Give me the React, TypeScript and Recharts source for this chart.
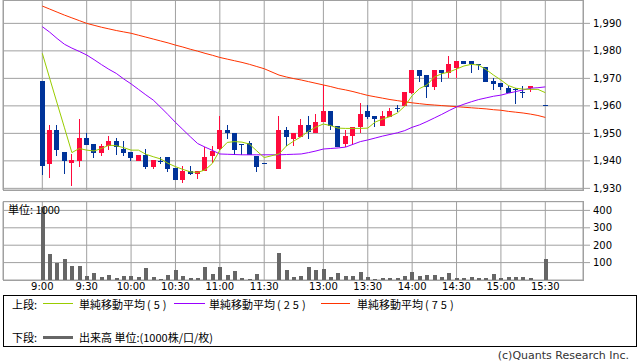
import { ComposedChart, Bar, Line, XAxis, YAxis, CartesianGrid } from 'recharts';

// 5-minute slots; '' is the lunch gap between 11:30 and 12:30
const times = [
  '9:00', '9:05', '9:10', '9:15', '9:20', '9:25', '9:30', '9:35', '9:40', '9:45', '9:50', '9:55',
  '10:00', '10:05', '10:10', '10:15', '10:20', '10:25', '10:30', '10:35', '10:40', '10:45', '10:50', '10:55',
  '11:00', '11:05', '11:10', '11:15', '11:20', '11:25', '11:30', '',
  '12:30', '12:35', '12:40', '12:45', '12:50', '12:55',
  '13:00', '13:05', '13:10', '13:15', '13:20', '13:25', '13:30', '13:35', '13:40', '13:45', '13:50', '13:55',
  '14:00', '14:05', '14:10', '14:15', '14:20', '14:25', '14:30', '14:35', '14:40', '14:45', '14:50', '14:55',
  '15:00', '15:05', '15:10', '15:15', '15:20', '15:25', '15:30',
];

const timeTicks = ['9:00', '9:30', '10:00', '10:30', '11:00', '11:30', '13:00', '13:30', '14:00', '14:30', '15:00', '15:30'];
const priceTicks = [1930, 1940, 1950, 1960, 1970, 1980, 1990];
const volumeTicks = [100, 200, 300, 400];

const opens = [
  1969, 1938.8, 1951.2, 1943.1, 1939.1, 1940, 1948.4, 1946.1, 1942.9, 1945.4, 1947.2, 1944.3,
  1943.1, 1940, 1942.1, 1937.9, 1940, 1941.5, 1937.5, 1933, 1936.3, 1935.1, 1936.3, 1941.9,
  1944.2, 1951.2, 1950, 1946, 1946.4, 1941.9, 1939.1, null,
  1937, 1951.2, 1947.9, 1948.8, 1953, 1950,
  1954, 1958.1, 1952.8, 1946, 1949, 1952.4, 1958.1, 1956.3, 1952.7, 1956, 1959.1, 1959.9,
  1964.8, 1973, 1971.2, 1967, 1973, 1972, 1973.6, 1976.3, 1976.3, 1975.1, 1974.2, 1969,
  1968.2, 1966.4, 1966.3, 1965.1, 1966.4, null, 1960.3,
];
const highs = [
  1969, 1953, 1953, 1943.1, 1942.4, 1955.2, 1950, 1946.1, 1946.1, 1949, 1948.4, 1947.2,
  1943.1, 1942.1, 1944.3, 1940.3, 1941.5, 1941.5, 1937.5, 1938.2, 1938.2, 1936.3, 1945.1, 1945.4,
  1956.4, 1953, 1950, 1946, 1947.3, 1941.9, 1939.1, null,
  1956.4, 1952.4, 1950, 1955.2, 1956.3, 1957,
  1967.6, 1958.1, 1952.8, 1951.2, 1952.4, 1961.1, 1960.3, 1956.3, 1958.1, 1959.3, 1960.3, 1964.9,
  1973, 1973, 1971.2, 1973, 1973, 1978.1, 1976.3, 1976.3, 1976.3, 1975.1, 1974.2, 1970,
  1968.2, 1967.3, 1966.4, 1967.2, 1967.2, null, 1960.3,
];
const lows = [
  1934.8, 1933.9, 1941.9, 1935.1, 1930.9, 1937.9, 1945.7, 1941.1, 1941.9, 1943.9, 1942.1, 1941.9,
  1940, 1940, 1937, 1937, 1939.1, 1936, 1933, 1932, 1935.1, 1933.3, 1936.3, 1939.1,
  1944.2, 1947.9, 1942.1, 1942.1, 1942.1, 1936, 1939.1, null,
  1937, 1945.5, 1945.1, 1948.8, 1947.9, 1950,
  1954, 1951.2, 1945.1, 1945.1, 1945.7, 1950.2, 1955.1, 1952.2, 1952.7, 1956, 1957.9, 1959.9,
  1964.2, 1968.8, 1962.9, 1965.7, 1968.8, 1970, 1970, 1975.1, 1972, 1972.8, 1968.8, 1965.7,
  1965.7, 1964.8, 1960.6, 1962.9, 1964.9, null, 1960.3,
];
const closes = [
  1938, 1951.2, 1943.9, 1940, 1940.3, 1948.4, 1945.7, 1942.9, 1945.4, 1947.2, 1945.1, 1942.9,
  1941.1, 1942.1, 1937.9, 1940.3, 1940, 1937, 1933, 1936.3, 1935.1, 1936.3, 1941.3, 1943.7,
  1951.2, 1950, 1943.9, 1946, 1942.1, 1937.9, 1939.1, null,
  1951.2, 1948.8, 1950, 1953, 1950.6, 1954,
  1958.1, 1952.8, 1945.1, 1949, 1952.4, 1957, 1956, 1955.1, 1956.3, 1958.1, 1959.1, 1964.9,
  1973, 1970.9, 1966.7, 1973, 1972, 1975.1, 1976.3, 1975.1, 1975.1, 1975.1, 1968.8, 1967.9,
  1967, 1964.8, 1966.3, 1965.1, 1967.2, null, 1960.3,
];

const ma5 = [
  1979.1, 1970, 1961, 1952, 1943, 1944.5, 1943.9, 1943.6, 1944.5, 1945.7, 1945.5, 1944.8,
  1943.9, 1943.9, 1942.4, 1941.5, 1940.7, 1939.1, 1937.9, 1936.9, 1936, 1935.8, 1936.7, 1939.1,
  1943.9, 1946.7, 1947, 1946.8, 1946.1, 1943.6, 1941.2, null,
  1942.5, 1945.4, 1947.2, 1948.8, 1950.8, 1952.3,
  1953.4, 1952.8, 1951.9, 1951.8, 1951.8, 1951.8, 1951.9, 1954.1, 1955.2, 1956.1, 1957.4, 1959.9,
  1963.7, 1966.3, 1967.6, 1970.5, 1971.7, 1972.3, 1973.4, 1974.5, 1975.1, 1974.8, 1973.2, 1971.2,
  1969.4, 1967.4, 1966.4, 1966.1, 1966, 1966, 1964.8,
];
const ma25 = [
  1988.8, 1986.8, 1984.5, 1982.4, 1981, 1979.8, 1978.5, 1976.8, 1975, 1973.3, 1971.8, 1969.8,
  1968, 1966, 1964, 1962.1, 1959.5, 1956.8, 1954, 1951.4, 1948.8, 1946.3, 1945, 1943.8,
  1942.5, 1942.4, 1942.3, 1942.2, 1942.2, 1942.2, 1942.2, null,
  1942.2, 1942.3, 1942.4, 1942.5, 1943, 1943.6,
  1944.3, 1944.5, 1944.7, 1945, 1946, 1947, 1947.6, 1948.3, 1949, 1949.6, 1950.2, 1951,
  1952.2, 1953.1, 1954.3, 1955.6, 1956.9, 1958.3, 1959.6, 1960.6, 1961.5, 1962.3, 1962.9, 1963.5,
  1963.9, 1964.6, 1965.2, 1965.8, 1966.4, 1966.6, 1966.9,
];
const ma75 = [
  1996.3, 1995.2, 1994.1, 1993, 1992, 1991, 1990, 1989.3, 1988.6, 1988, 1987.4, 1986.9,
  1986.4, 1985.7, 1985, 1984.3, 1983.6, 1982.9, 1982.1, 1981.4, 1980.6, 1979.9, 1979.1, 1978.4,
  1977.6, 1977, 1976.4, 1975.8, 1975.1, 1974.3, 1973.5, null,
  1971.2, 1970.5, 1969.9, 1969.4, 1968.8, 1968.2,
  1967.6, 1967, 1966.3, 1965.8, 1965.2, 1964.5, 1963.8, 1963.3, 1962.8, 1962.3, 1961.9, 1961.5,
  1961.1, 1960.8, 1960.5, 1960.3, 1960.1, 1959.9, 1959.7, 1959.5, 1959.3, 1959.1, 1958.9, 1958.6,
  1958.4, 1958, 1957.7, 1957.4, 1957, 1956.5, 1955.8,
];

// 単位: 1000
const volumes = [
  420, 150, 95, 120, 82, 82, 25, 40, 17, 29, 13, 25,
  25, 19, 70, 17, 8, 29, 57, 25, 13, 13, 74, 34,
  76, 29, 51, 11, 8, 34, 2, null,
  154, 57, 19, 25, 74, 57,
  63, 17, 40, 25, 25, 46, 17, 6, 11, 11, 11, 23,
  46, 23, 29, 29, 17, 40, 11, 11, 17, 11, 11, 34,
  11, 17, 17, 17, 11, null, 120,
];

const data = times.map((t, i) => ({
  t,
  o: opens[i],
  h: highs[i],
  l: lows[i],
  c: closes[i],
  range: opens[i] == null ? null : [lows[i], highs[i]],
  ma5: ma5[i],
  ma25: ma25[i],
  ma75: ma75[i],
  vol: volumes[i],
}));

const UP = '#ff0a3c';
const DOWN = '#003399';
const GRID = '#a0a0a0';
const NUM_FONT = '"DejaVu Sans", sans-serif';
const JP_FONT = '"Noto Sans CJK JP", sans-serif';

const Candle = (props: any) => {
  const { x, y, width, height, payload } = props;
  if (!payload || payload.o == null) return null;
  const { o, h, l, c } = payload;
  const k = h > l ? height / (h - l) : 0;
  const py = (v: number) => y + (h - v) * k;
  const color = c > o ? UP : DOWN;
  const cx = Math.floor(x + width / 2);
  const top = Math.round(py(Math.max(o, c)));
  const bot = Math.round(py(Math.min(o, c)));
  return (
    <g shapeRendering="crispEdges">
      <rect x={cx} y={Math.round(y)} width={1} height={Math.max(1, Math.round(height))} fill={color} />
      <rect x={cx - 2} y={top} width={5} height={Math.max(1, bot - top)} fill={color} />
    </g>
  );
};

const VolBar = (props: any) => {
  const { x, y, width, height } = props;
  if (!height) return null;
  return <rect x={Math.round(x)} y={Math.round(y)} width={width} height={Math.round(y + height) - Math.round(y)} fill="#666" shapeRendering="crispEdges" />;
};

const xPadding = { left: 35.6, right: 34 };

const legendText = { position: 'absolute' as const, lineHeight: '14px', whiteSpace: 'nowrap' as const };

export default function App() {
  return (
    <div style={{ position: 'absolute', left: 0, top: 0, width: 638, height: 362, background: '#fff', fontFamily: JP_FONT }}>
      {/* volume panel */}
      <div style={{ position: 'absolute', left: 0, top: 190 }}>
        <ComposedChart width={638} height={110} data={data} margin={{ top: 11.7, right: 5, bottom: 0, left: 3 }}>
          <CartesianGrid stroke={GRID} />
          <XAxis
            dataKey="t"
            type="category"
            ticks={timeTicks}
            interval={0}
            padding={xPadding}
            height={20}
            axisLine={false}
            tickLine={false}
            tickSize={0}
            tickMargin={3}
            tick={{ fill: '#000', fontSize: 10, fontFamily: NUM_FONT }}
          />
          <YAxis
            orientation="right"
            width={50}
            domain={[0, 450]}
            ticks={volumeTicks}
            interval={0}
            allowDataOverflow
            axisLine={false}
            tickSize={7}
            tickMargin={3}
            tickLine={{ stroke: GRID }}
            tick={{ fill: '#000', fontSize: 10, fontFamily: NUM_FONT }}
          />
          <Bar dataKey="vol" shape={<VolBar />} barSize={4} isAnimationActive={false} />
        </ComposedChart>
        <div style={{ position: 'absolute', left: 3, top: 11, width: 581, height: 80, border: `1px solid ${GRID}`, boxSizing: 'border-box', pointerEvents: 'none' }} />
        <div style={{ position: 'absolute', left: 8, top: 12, fontSize: 11, lineHeight: '14px', color: '#000', whiteSpace: 'nowrap' }}>単位: 1000</div>
      </div>

      {/* price panel */}
      <div style={{ position: 'absolute', left: 0, top: 0 }}>
        <ComposedChart width={638} height={198} data={data} margin={{ top: 0, right: 5, bottom: 8, left: 3 }}>
          <CartesianGrid stroke={GRID} />
          <XAxis dataKey="t" type="category" hide ticks={timeTicks} interval={0} padding={xPadding} />
          <YAxis
            orientation="right"
            width={50}
            domain={[1929.4, 1998.5]}
            ticks={priceTicks}
            interval={0}
            allowDataOverflow
            axisLine={false}
            tickSize={7}
            tickMargin={3}
            tickLine={{ stroke: GRID }}
            tick={{ fill: '#000', fontSize: 10, fontFamily: NUM_FONT }}
            tickFormatter={(v: number) => v.toLocaleString('en-US')}
          />
          <Bar dataKey="range" shape={<Candle />} barSize={5} isAnimationActive={false} />
          <Line dataKey="ma75" stroke="#ff3300" strokeWidth={1} dot={false} connectNulls isAnimationActive={false} />
          <Line dataKey="ma25" stroke="#9900ff" strokeWidth={1} dot={false} connectNulls isAnimationActive={false} />
          <Line dataKey="ma5" stroke="#99cc00" strokeWidth={1} dot={false} connectNulls isAnimationActive={false} />
        </ComposedChart>
        <div style={{ position: 'absolute', left: 3, top: 0, width: 581, height: 191, border: `1px solid ${GRID}`, boxSizing: 'border-box', pointerEvents: 'none' }} />
      </div>

      {/* legend */}
      <div style={{ position: 'absolute', left: 3, top: 295, width: 634, height: 52, border: '1px solid #000', boxSizing: 'border-box', fontSize: 11, color: '#000' }}>
        <div style={{ ...legendText, left: 8, top: 1 }}>上段:</div>
        <div style={{ position: 'absolute', left: 39, top: 7, width: 30, height: 1, background: '#99cc00' }} />
        <div style={{ ...legendText, left: 75, top: 1 }}>単純移動平均<span style={{ marginLeft: 2, letterSpacing: 3 }}>(5)</span></div>
        <div style={{ position: 'absolute', left: 170, top: 7, width: 31, height: 1, background: '#9900ff' }} />
        <div style={{ ...legendText, left: 205, top: 1 }}>単純移動平均<span style={{ marginLeft: 2, letterSpacing: 3 }}>(25)</span></div>
        <div style={{ position: 'absolute', left: 317, top: 7, width: 29, height: 1, background: '#ff3300' }} />
        <div style={{ ...legendText, left: 353, top: 1 }}>単純移動平均<span style={{ marginLeft: 2, letterSpacing: 3 }}>(75)</span></div>
        <div style={{ ...legendText, left: 8, top: 34 }}>下段:</div>
        <div style={{ position: 'absolute', left: 39, top: 40, width: 30, height: 3, background: '#666' }} />
        <div style={{ ...legendText, left: 75, top: 34 }}>出来高 単位:(1000株/口/枚)</div>
      </div>

      <div style={{ position: 'absolute', right: 9, top: 349, fontSize: 11, lineHeight: '14px', color: '#333', fontFamily: NUM_FONT, whiteSpace: 'nowrap' }}>
        (c)Quants Research Inc.
      </div>
    </div>
  );
}
